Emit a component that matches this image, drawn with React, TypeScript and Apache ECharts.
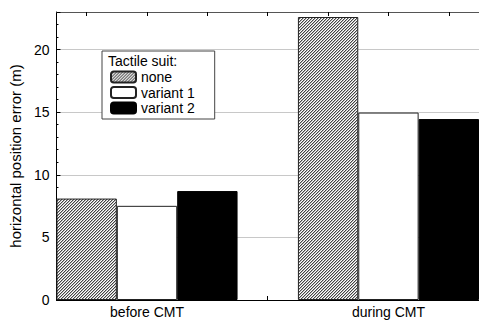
import React, { useEffect, useRef } from "react";
import * as echarts from "echarts";

const slots = ["", "before CMT", "", "", "", "during CMT", ""];
const seriesNames = ["none", "variant 1", "variant 2"];
const noneVals = [8.1, "-", "-", "-", 22.6, "-", "-"];
const v1Vals = ["-", 7.52, "-", "-", "-", 14.97, "-"];
const v2Vals = ["-", "-", 8.7, "-", "-", "-", 14.45];
const yTicks = [0, 5, 10, 15, 20];

function makeHatch(): string {
  const c = document.createElement("canvas");
  c.width = 3;
  c.height = 3;
  const ctx = c.getContext("2d")!;
  ctx.fillStyle = "#ffffff";
  ctx.fillRect(0, 0, 3, 3);
  for (let y = 0; y < 3; y++) {
    const x = 2 - y;
    ctx.fillStyle = "#444444";
    ctx.fillRect(x, y, 1, 1);
    ctx.fillStyle = "#b4b4b4";
    ctx.fillRect((x + 1) % 3, y, 1, 1);
  }
  return c.toDataURL();
}

export default function App() {
  const ref = useRef<HTMLDivElement>(null);
  useEffect(() => {
    const chart = echarts.init(ref.current!, undefined, { renderer: "svg" });
    const font = "Liberation Sans, Arial, sans-serif";
    const hatch = makeHatch();
    const common = {
      type: "bar",
      stack: "all",
      barWidth: "100%",
      barGap: "0%",
    };
    chart.setOption({
      animation: false,
      textStyle: { fontFamily: font },
      grid: { left: 53, top: 12, width: 430, height: 288 },
      legend: {
        left: 102,
        top: 51,
        orient: "vertical",
        data: seriesNames,
        itemWidth: 25,
        itemHeight: 11,
        itemGap: 1.5,
        padding: [19, 20, 4, 8],
        borderColor: "#444",
        borderWidth: 1,
        backgroundColor: "#fff",
        textStyle: { fontSize: 14, color: "#000", fontFamily: font },
        selectedMode: false,
      },
      graphic: [
        {
          type: "text",
          left: 108,
          top: 54,
          z: 100,
          style: { text: "Tactile suit:", fontSize: 14, fill: "#000", fontFamily: font },
        },
      ],
      xAxis: [
        {
          type: "category",
          data: slots,
          boundaryGap: true,
          axisLine: { lineStyle: { color: "#000", width: 1 } },
          axisTick: { show: true, inside: true, alignWithLabel: true, interval: 0, length: 4, lineStyle: { color: "#000" } },
          axisLabel: { interval: 0, color: "#000", fontSize: 14, margin: 5, fontFamily: font },
        },
        {
          type: "category",
          position: "top",
          data: slots,
          boundaryGap: true,
          axisLine: { lineStyle: { color: "#555", width: 1 } },
          axisTick: { show: true, inside: true, alignWithLabel: true, interval: 0, length: 4, lineStyle: { color: "#000" } },
          axisLabel: { show: false },
        },
      ],
      yAxis: {
        type: "value",
        min: 0,
        max: 23,
        interval: 5,
        name: "horizontal position error (m)",
        nameLocation: "middle",
        nameGap: 32,
        nameTextStyle: { fontSize: 15, color: "#000", fontFamily: font },
        axisLine: { show: true, lineStyle: { color: "#000" } },
        axisTick: { show: true, inside: true, length: 4, lineStyle: { color: "#000" } },
        minorTick: { show: true, splitNumber: 5, length: 2, lineStyle: { color: "#000" } },
        axisLabel: {
          color: "#000",
          fontSize: 14,
          margin: 7,
          fontFamily: font,
          formatter: (v: number) => (yTicks.includes(v) ? String(v) : ""),
        },
        splitLine: { show: true, lineStyle: { color: "#c8c8c8", width: 1 } },
      },
      series: [
        {
          ...common,
          name: seriesNames[0],
          data: noneVals,
          itemStyle: {
            color: { image: hatch, repeat: "repeat" },
            borderColor: "#222",
            borderWidth: 1,
          },
        },
        {
          ...common,
          name: seriesNames[1],
          data: v1Vals,
          itemStyle: { color: "#ffffff", borderColor: "#222", borderWidth: 1 },
        },
        {
          ...common,
          name: seriesNames[2],
          data: v2Vals,
          itemStyle: { color: "#000000", borderColor: "#000", borderWidth: 1 },
        },
      ],
    });
    return () => chart.dispose();
  }, []);
  return <div ref={ref} style={{ width: 479, height: 320, position: "absolute", left: 0, top: 0 }} />;
}
